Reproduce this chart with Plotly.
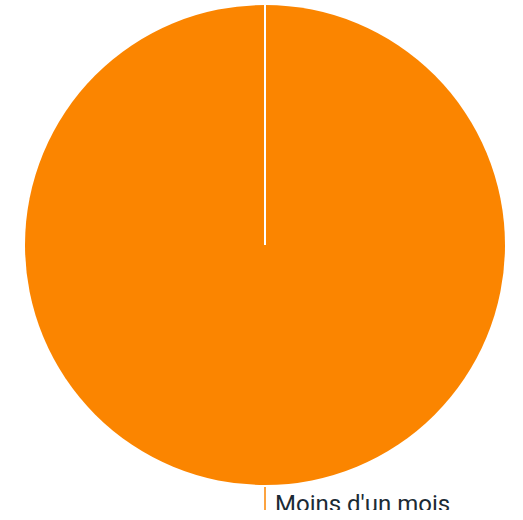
import plotly.graph_objects as go

labels = ["Moins d'un mois"]
values = [100]
colors = ["#FB8500"]

fig = go.Figure(go.Pie(
    labels=labels, values=values, marker=dict(colors=colors, line=dict(color="white", width=0)),
    textinfo="none", sort=False, direction="clockwise", rotation=0, hoverinfo="label+percent",
    showlegend=False,
))
fig.update_layout(
    width=523, height=510,
    margin=dict(l=25, r=18, t=5, b=25),
    paper_bgcolor="white", plot_bgcolor="white",
    shapes=[
        dict(type="line", xref="paper", yref="paper", x0=0.5, x1=0.5, y0=0.5, y1=1.0,
             line=dict(color="white", width=2)),
        dict(type="line", xref="paper", yref="paper", x0=0.5, x1=0.5, y0=-0.004, y1=-0.06,
             line=dict(color="#FB8500", width=1.5)),
    ],
    annotations=[
        dict(text=labels[0], xref="paper", yref="paper", x=0.516, y=-0.040,
             xanchor="left", yanchor="middle", showarrow=False,
             font=dict(family="Roboto", size=24, color="#1B2B35")),
    ],
)
fig.write_html("out.html", config={"displayModeBar": False},
               post_script="document.body.style.margin='0';")
